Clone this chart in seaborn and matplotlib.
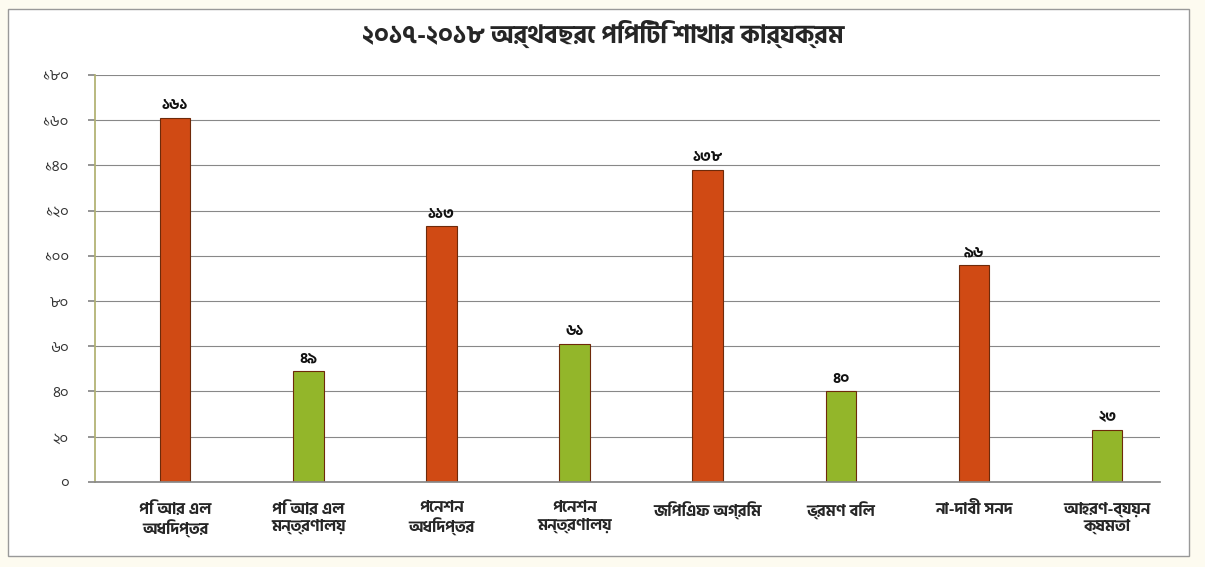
import matplotlib
matplotlib.use("Agg")
import matplotlib.pyplot as plt
import seaborn as sns
import pandas as pd
from matplotlib.patches import Rectangle

categories = ["পি আর এল\nঅধিদপ্তর", "পি আর এল\nমন্ত্রণালয়", "পেনশন\nঅধিদপ্তর", "পেনশন\nমন্ত্রণালয়",
              "জিপিএফ অগ্রিম", "ভ্রমণ বিল", "না-দাবী সনদ", "আহরণ-ব্যয়ন\nক্ষমতা"]
values = [161, 49, 113, 61, 138, 40, 96, 23]
value_labels = ["১৬১", "৪৯", "১১৩", "৬১", "১৩৮", "৪০", "৯৬", "২৩"]
y_ticks = [0, 20, 40, 60, 80, 100, 120, 140, 160, 180]
y_tick_labels = ["০", "২০", "৪০", "৬০", "৮০", "১০০", "১২০", "১৪০", "১৬০", "১৮০"]
title = "২০১৭-২০১৮ অর্থবছরে পিপিটি শাখার কার্যক্রম"
bar_colors = ["#d04a14", "#93b62a", "#d04a14", "#93b62a", "#d04a14", "#93b62a", "#d04a14", "#93b62a"]

sns.set_theme(style="white")
plt.rcParams['font.family'] = ['Hind Siliguri', 'DejaVu Sans']

fig = plt.figure(figsize=(12.05, 5.67), dpi=100)
fig.patch.set_facecolor("#fdfbf0")
fig.patches.append(Rectangle((0.007, 0.02), 0.98, 0.965, transform=fig.transFigure,
                             facecolor="white", edgecolor="#999999", lw=1, zorder=-10))
ax = fig.add_axes([0.079, 0.15, 0.884, 0.718])
ax.set_facecolor("white")

df = pd.DataFrame({"cat": categories, "val": values})
sns.barplot(data=df, x="cat", y="val", hue="cat", palette=bar_colors, legend=False,
            width=0.23, ax=ax, saturation=1, edgecolor="#6e2a0a", linewidth=0.8)

for i, (v, lab) in enumerate(zip(values, value_labels)):
    ax.text(i, v + 2.5, lab, ha="center", va="bottom", fontsize=11, fontweight="bold", color="#111111")

ax.set_ylim(0, 180)
ax.set_xlim(-0.6, 7.4)
ax.set_yticks(y_ticks)
ax.set_yticklabels(y_tick_labels, fontsize=11)
ax.yaxis.grid(True, color="#888888", lw=0.8)
ax.set_axisbelow(True)
ax.set_xlabel("")
ax.set_ylabel("")
ax.tick_params(axis="y", left=True, length=5, color="#888888", pad=14, labelcolor="#333333")
ax.tick_params(axis="x", labelsize=11.5, pad=8)
for lbl in ax.get_xticklabels():
    lbl.set_fontweight("bold")
    lbl.set_linespacing(1.15)
for s in ["top", "right"]:
    ax.spines[s].set_visible(False)
ax.spines["left"].set_color("#b0b070")
ax.spines["bottom"].set_color("#888888")
fig.text(0.5, 0.94, title, ha="center", va="center", fontsize=18, fontweight="bold")

fig.savefig("out.png", dpi=100, facecolor=fig.get_facecolor())
